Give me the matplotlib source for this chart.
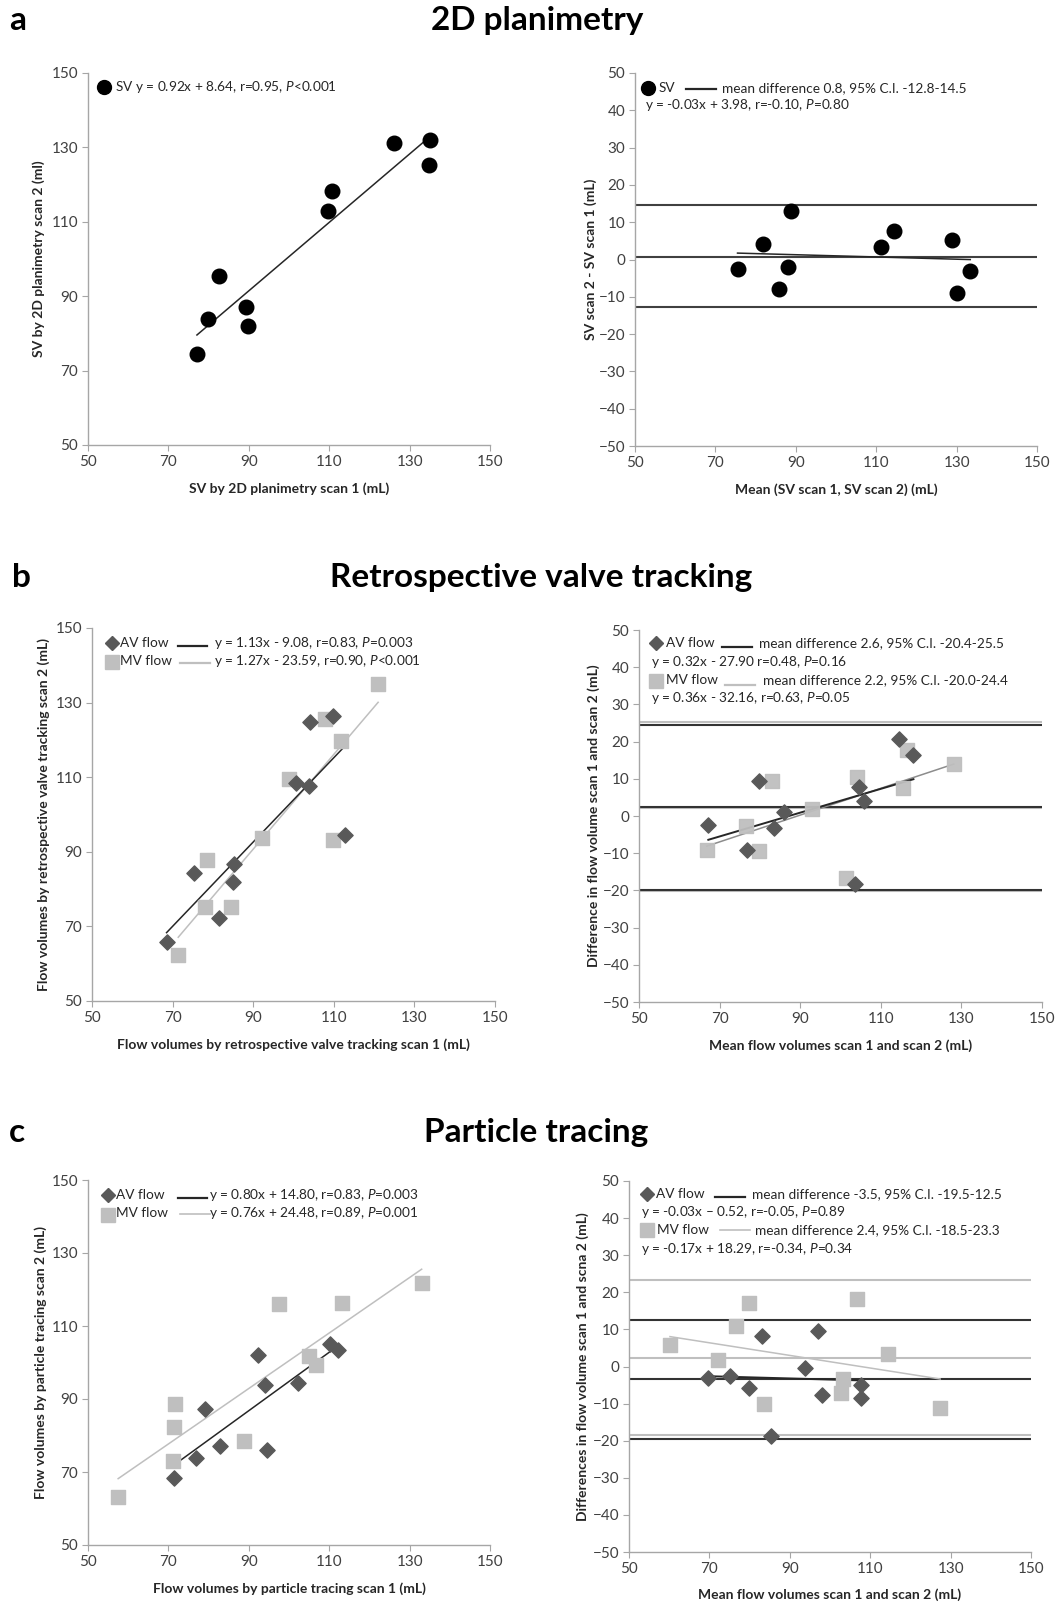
import numpy as np
import matplotlib
matplotlib.use("Agg")
import matplotlib.pyplot as plt
from matplotlib.lines import Line2D

plt.rcParams['font.family'] = ['Lato', 'DejaVu Sans']
plt.rcParams['mathtext.fontset'] = 'custom'
plt.rcParams['mathtext.rm'] = 'Lato'
plt.rcParams['mathtext.it'] = 'Lato:italic'

W, H = 1063, 1602

# ---- data ----
# a: 2D planimetry
sv_scan1 = [77.1, 79.9, 82.5, 89.2, 89.9, 109.8, 110.7, 126.2, 135.1, 134.9]
sv_scan2 = [74.5, 83.9, 95.5, 87.2, 82.1, 113.0, 118.2, 131.3, 131.9, 125.4]
sv_mean = [75.5, 81.9, 85.9, 88.1, 88.9, 111.2, 114.5, 128.8, 130.1, 133.4]
sv_diff = [-2.5, 4.1, -7.8, -1.9, 12.9, 3.4, 7.6, 5.2, -9.1, -3.0]
sv_fit = (0.92, 8.64)
sv_ba_fit = (-0.03, 3.98)
sv_limits = [14.5, 0.8, -12.8]

# b: retrospective valve tracking
rvt_av_scan1 = [68.5, 75.3, 81.5, 85.0, 85.3, 100.5, 103.9, 104.1, 109.9, 112.9]
rvt_av_scan2 = [65.8, 84.4, 72.3, 81.8, 86.6, 108.5, 107.7, 124.8, 126.5, 94.5]
rvt_mv_scan1 = [71.4, 78.0, 78.6, 84.4, 92.1, 98.8, 107.8, 109.9, 111.9, 121.0]
rvt_mv_scan2 = [62.3, 75.1, 87.8, 75.2, 93.8, 109.4, 125.6, 93.2, 119.6, 135.0]
rvt_av_fit = (1.13, -9.08)
rvt_mv_fit = (1.27, -23.59)

rvt_av_mean = [67.2, 76.9, 79.7, 83.4, 86.0, 103.7, 104.6, 105.9, 114.4, 118.1]
rvt_av_diff = [-2.4, -9.1, 9.3, -3.1, 1.0, -18.3, 7.9, 3.9, 20.7, 16.4]
rvt_mv_mean = [66.8, 76.5, 79.7, 83.1, 92.9, 101.4, 104.1, 115.6, 116.5, 128.1]
rvt_mv_diff = [-9.1, -2.8, -9.3, 9.3, 1.9, -16.7, 10.4, 7.5, 17.8, 13.9]
rvt_av_ba_fit = (0.32, -27.90)
rvt_mv_ba_fit = (0.36, -32.16)
rvt_av_limits = [24.5, 2.4, -20.0]
rvt_mv_limits = [25.4, 2.2, -20.2]

# c: particle tracing
pt_av_scan1 = [71.4, 76.8, 79.0, 82.8, 92.2, 94.1, 94.6, 102.3, 110.3, 112.2]
pt_av_scan2 = [68.3, 73.9, 87.2, 77.1, 102.0, 93.9, 76.0, 94.3, 105.2, 103.4]
pt_mv_scan1 = [57.5, 71.2, 71.3, 71.7, 88.8, 97.6, 105.0, 106.7, 113.1, 133.0]
pt_mv_scan2 = [63.2, 73.1, 82.2, 88.6, 78.6, 115.9, 101.7, 99.3, 116.2, 121.9]
pt_av_fit = (0.80, 14.80)
pt_mv_fit = (0.76, 24.48)

pt_av_mean = [69.7, 75.1, 79.9, 83.0, 85.2, 93.9, 97.0, 98.1, 107.6, 107.6]
pt_av_diff = [-3.1, -2.6, -5.7, 8.1, -18.7, -0.3, 9.7, -7.8, -5.1, -8.4]
pt_mv_mean = [60.2, 72.2, 76.6, 79.9, 83.7, 102.7, 103.2, 106.6, 114.5, 127.4]
pt_mv_diff = [5.7, 1.7, 10.9, 17.1, -10.2, -7.1, -3.3, 18.3, 3.3, -11.2]
pt_av_ba_fit = (-0.03, -0.52)
pt_mv_ba_fit = (-0.17, 18.29)
pt_av_limits = [12.5, -3.5, -19.5]
pt_mv_limits = [23.3, 2.4, -18.5]

DARK = '#595959'
LIGHT = '#BFBFBF'
LINE_DARK = '#262626'
SPINE = '#A6A6A6'
TXT = '#262626'


def fx(px):
    return px / W


def fy(py):
    return 1 - py / H


def make_axes(fig, l, r, t, b):
    return fig.add_axes([fx(l), fy(b), (r - l) / W, (b - t) / H])


def style(ax, yticks):
    ax.set_xlim(50, 150)
    ax.set_xticks(range(50, 151, 20))
    ax.set_ylim(yticks[0], yticks[-1])
    ax.set_yticks(yticks)
    for s in ['top', 'right']:
        ax.spines[s].set_visible(False)
    for s in ['left', 'bottom']:
        ax.spines[s].set_color(SPINE)
        ax.spines[s].set_linewidth(1.0)
    ax.tick_params(direction='out', length=4, color=SPINE, labelsize=11,
                   labelcolor='#404040', pad=3)


def labels(ax, xl, yl, xpad, ycoord):
    ax.set_xlabel(xl, labelpad=xpad, fontsize=10, fontweight='bold', color=TXT)
    ax.set_ylabel(yl, fontsize=10, fontweight='bold', color=TXT)
    ax.yaxis.set_label_coords(ycoord, 0.5)


def fit_line(ax, x, coef, color, lw=1.1):
    xs = np.array([min(x), max(x)])
    ax.plot(xs, coef[0] * xs + coef[1], color=color, lw=lw, zorder=3)


def hlines(ax, vals, color, lw=1.5):
    for v in vals:
        ax.axhline(v, color=color, lw=lw, zorder=2)


def ftext(px, py, s, size=9.8, **kw):
    fig.text(fx(px), fy(py), s, fontsize=size, color=TXT, va='center', ha='left', **kw)


def fmark(px, py, marker, color, ms):
    fig.add_artist(Line2D([fx(px)], [fy(py)], marker=marker, color=color, ms=ms,
                          ls='none', transform=fig.transFigure))


def fline(px0, px1, py, color, lw=1.6):
    fig.add_artist(Line2D([fx(px0), fx(px1)], [fy(py), fy(py)], color=color, lw=lw,
                          transform=fig.transFigure))


fig = plt.figure(figsize=(W / 100, H / 100), dpi=100)

yt_left = list(range(50, 151, 20))
yt_right = list(range(-50, 51, 10))

# ---------- a ----------
ax = make_axes(fig, 88, 490, 73, 445)
style(ax, yt_left)
fit_line(ax, sv_scan1, sv_fit, LINE_DARK)
ax.scatter(sv_scan1, sv_scan2, s=110, color='black', zorder=4)
labels(ax, 'SV by 2D planimetry scan 1 (mL)', 'SV by 2D planimetry scan 2 (ml)', 10, -0.107)

ax = make_axes(fig, 635, 1037, 73, 446)
style(ax, yt_right)
hlines(ax, sv_limits, '#404040')
fit_line(ax, sv_mean, sv_ba_fit, LINE_DARK)
ax.scatter(sv_mean, sv_diff, s=110, color='black', zorder=4)
labels(ax, 'Mean (SV scan 1, SV scan 2) (mL)', 'SV scan 2 - SV scan 1 (mL)', 10, -0.095)

# ---------- b ----------
ax = make_axes(fig, 92, 495, 628, 1001)
style(ax, yt_left)
fit_line(ax, rvt_mv_scan1, rvt_mv_fit, LIGHT)
fit_line(ax, rvt_av_scan1, rvt_av_fit, LINE_DARK)
ax.scatter(rvt_mv_scan1, rvt_mv_scan2, s=100, marker='s', color=LIGHT, zorder=4)
ax.scatter(rvt_av_scan1, rvt_av_scan2, s=60, marker='D', color=DARK, zorder=5)
labels(ax, 'Flow volumes by retrospective valve tracking scan 1 (mL)',
       'Flow volumes by retrospective valve tracking scan 2 (mL)', 10, -0.104)

ax = make_axes(fig, 639, 1042, 630, 1002)
style(ax, yt_right)
hlines(ax, rvt_mv_limits, LIGHT)
hlines(ax, rvt_av_limits, '#333333')
fit_line(ax, rvt_mv_mean, rvt_mv_ba_fit, '#8C8C8C')
fit_line(ax, rvt_av_mean, rvt_av_ba_fit, LINE_DARK, lw=1.4)
ax.scatter(rvt_mv_mean, rvt_mv_diff, s=100, marker='s', color=LIGHT, alpha=0.95, zorder=4)
ax.scatter(rvt_av_mean, rvt_av_diff, s=60, marker='D', color=DARK, zorder=5)
labels(ax, 'Mean flow volumes scan 1 and scan 2 (mL)',
       'Difference in flow volume scan 1 and scan 2 (mL)', 10, -0.097)

# ---------- c ----------
ax = make_axes(fig, 88, 490, 1180, 1545)
style(ax, yt_left)
fit_line(ax, pt_mv_scan1, pt_mv_fit, LIGHT)
fit_line(ax, pt_av_scan1, pt_av_fit, LINE_DARK)
ax.scatter(pt_mv_scan1, pt_mv_scan2, s=100, marker='s', color=LIGHT, zorder=4)
ax.scatter(pt_av_scan1, pt_av_scan2, s=60, marker='D', color=DARK, zorder=5)
labels(ax, 'Flow volumes by particle tracing scan 1 (mL)',
       'Flow volumes by particle tracing scan 2 (mL)', 10, -0.102)

ax = make_axes(fig, 629, 1031, 1181, 1552)
style(ax, yt_right)
hlines(ax, pt_mv_limits, LIGHT)
hlines(ax, pt_av_limits, '#333333')
fit_line(ax, pt_mv_mean, pt_mv_ba_fit, LIGHT)
fit_line(ax, pt_av_mean, pt_av_ba_fit, LINE_DARK, lw=1.4)
ax.scatter(pt_mv_mean, pt_mv_diff, s=100, marker='s', color=LIGHT, zorder=4)
ax.scatter(pt_av_mean, pt_av_diff, s=60, marker='D', color=DARK, zorder=5)
labels(ax, 'Mean flow volumes scan 1 and scan 2 (mL)',
       'Differences in flow volume scan 1 and scna 2 (mL)', 9, -0.1)

# ---------- legends (drawn as figure text) ----------
fmark(104, 87, 'o', 'black', 10)
ftext(115, 87, 'SV y = 0.92x + 8.64, r=0.95, $P$<0.001')

fmark(648, 88, 'o', 'black', 10)
ftext(659, 88, 'SV')
fline(686, 716, 89, LINE_DARK)
ftext(722, 88, 'mean difference 0.8, 95% C.I. -12.8-14.5')
ftext(645, 105, 'y = -0.03x + 3.98, r=-0.10, $P$=0.80')

fmark(112, 643, 'D', DARK, 7)
ftext(120, 643, 'AV flow')
fline(178, 207, 646, LINE_DARK)
ftext(214, 643, 'y = 1.13x - 9.08, r=0.83, $P$=0.003')
fmark(112, 662, 's', LIGHT, 10)
ftext(120, 661, 'MV flow')
fline(180, 210, 663, LIGHT)
ftext(214, 661, 'y = 1.27x - 23.59, r=0.90, $P$<0.001')

fmark(656, 643, 'D', DARK, 7)
ftext(666, 643, 'AV flow')
fline(722, 752, 647, LINE_DARK)
ftext(759, 643, 'mean difference 2.6, 95% C.I. -20.4-25.5')
ftext(651, 662, 'y = 0.32x - 27.90 r=0.48, $P$=0.16')
fmark(656, 681, 's', LIGHT, 10)
ftext(666, 680, 'MV flow')
fline(725, 755, 685, LIGHT)
ftext(763, 680, 'mean difference 2.2, 95% C.I. -20.0-24.4')
ftext(651, 698, 'y = 0.36x - 32.16, r=0.63, $P$=0.05')

fmark(108, 1195, 'D', DARK, 7)
ftext(116, 1195, 'AV flow')
fline(178, 207, 1198, LINE_DARK)
ftext(209, 1195, 'y = 0.80x + 14.80, r=0.83, $P$=0.003')
fmark(108, 1215, 's', LIGHT, 10)
ftext(116, 1213, 'MV flow')
fline(180, 210, 1214, LIGHT, lw=1.2)
ftext(209, 1213, 'y = 0.76x + 24.48, r=0.89, $P$=0.001')

fmark(647, 1194, 'D', DARK, 7)
ftext(656, 1194, 'AV flow')
fline(715, 745, 1197, LINE_DARK)
ftext(752, 1194, 'mean difference -3.5, 95% C.I. -19.5-12.5')
ftext(641, 1212, 'y = -0.03x \u2013 0.52, r=-0.05, $P$=0.89')
fmark(647, 1230, 's', LIGHT, 10)
ftext(657, 1230, 'MV flow')
fline(720, 750, 1230, LIGHT, lw=1.2)
ftext(755, 1230, 'mean difference 2.4, 95% C.I. -18.5-23.3')
ftext(641, 1249, 'y = -0.17x + 18.29, r=-0.34, $P$=0.34')

# ---------- titles ----------
tkw = dict(fontsize=24, fontweight='bold', va='baseline')
fig.text(fx(537), fy(30), '2D planimetry', ha='center', **tkw)
fig.text(fx(9), fy(30), 'a', ha='left', **tkw)
fig.text(fx(541), fy(587), 'Retrospective valve tracking', ha='center', **tkw)
fig.text(fx(12), fy(587), 'b', ha='left', **tkw)
fig.text(fx(536), fy(1142), 'Particle tracing', ha='center', **tkw)
fig.text(fx(9), fy(1142), 'c', ha='left', **tkw)

fig.savefig('out.png', dpi=100)
